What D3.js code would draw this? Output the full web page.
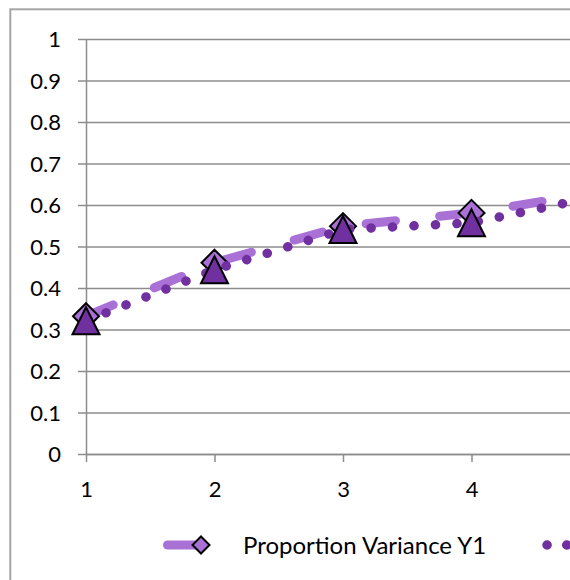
<!DOCTYPE html>
<html>
<head>
<meta charset="utf-8">
<script src="https://cdn.jsdelivr.net/npm/d3@7"></script>
<style>
  body { margin: 0; background: #fff; }
  svg { display: block; font-family: Lato, "Open Sans", sans-serif; }
</style>
</head>
<body>
<div id="chart"></div>
<script>
// values
const xValues = [1, 2, 3, 4, 5]
const varianceY1 = [0.332, 0.461, 0.549, 0.581, 0.631]
const varianceY2 = [0.321, 0.444, 0.541, 0.557, 0.622]
const yTicks = [0, 0.1, 0.2, 0.3, 0.4, 0.5, 0.6, 0.7, 0.8, 0.9, 1]
const xTicks = [1, 2, 3, 4]
const seriesNames = ["Proportion Variance Y1"]

const width = 570
const height = 580
const plot = { left: 86, top: 39, bottom: 454, right: 86 + 128.5 * 5 }

const gridColor = "#8c8c8c"
const lightPurple = "#a970d6"
const darkPurple = "#7030a0"

const svg = d3.select("#chart").append("svg")
    .attr("width", width)
    .attr("height", height)

const xScale = d3.scaleLinear()
    .domain([1, 6])
    .range([plot.left, plot.right])

const yScale = d3.scaleLinear()
    .domain([0, 1])
    .range([plot.bottom, plot.top])

// chart border (cropped on the right and bottom)
svg.append("rect")
    .attr("x", 10.3).attr("y", 9.3)
    .attr("width", 800).attr("height", 800)
    .attr("fill", "none")
    .attr("stroke", "#a6a6a6")
    .attr("stroke-width", 2)

// horizontal gridlines
svg.append("g")
    .attr("transform", "translate(" + plot.left + ",0)")
    .call(d3.axisRight(yScale).tickValues(yTicks).tickSize(plot.right - plot.left).tickFormat(""))
    .call(g => g.select(".domain").remove())
    .call(g => g.selectAll("line").attr("stroke", gridColor).attr("stroke-width", 1.5))

// y axis
svg.append("g")
    .attr("transform", "translate(" + plot.left + ",0)")
    .call(d3.axisLeft(yScale).tickValues(yTicks).tickSize(8).tickSizeOuter(0).tickPadding(17)
        .tickFormat(d => String(+d.toFixed(1))))
    .call(g => g.select(".domain").attr("stroke", gridColor).attr("stroke-width", 1.5))
    .call(g => g.selectAll("line").attr("stroke", gridColor).attr("stroke-width", 1.5))
    .call(g => g.selectAll("text")
        .attr("font-size", 22).attr("fill", "#000")
        .attr("font-family", "Lato, 'Open Sans', sans-serif")
        .attr("dy", "0.36em"))

// x axis
svg.append("g")
    .attr("transform", "translate(0," + plot.bottom + ")")
    .call(d3.axisBottom(xScale).tickValues(xTicks).tickSize(8).tickSizeOuter(0)
        .tickFormat(d3.format("d")))
    .call(g => g.select(".domain").attr("stroke", gridColor).attr("stroke-width", 1.5))
    .call(g => g.selectAll("line").attr("stroke", gridColor).attr("stroke-width", 1.5))
    .call(g => g.selectAll("text")
        .attr("font-size", 22).attr("fill", "#000")
        .attr("font-family", "Lato, 'Open Sans', sans-serif")
        .attr("y", 35).attr("dy", "0.36em"))

const diamond = r => "M0," + (-r) + "L" + r + ",0L0," + r + "L" + (-r) + ",0Z"
const triangle = r => "M0," + (-r) + "L" + r + "," + r + "L" + (-r) + "," + r + "Z"

const line = d3.line()
    .x(d => xScale(d[0]))
    .y(d => yScale(d[1]))

const pts1 = xValues.map((x, i) => [x, varianceY1[i]])
const pts2 = xValues.map((x, i) => [x, varianceY2[i]])

// series 1: long dash line + diamonds
svg.append("path")
    .datum(pts1)
    .attr("d", line)
    .attr("fill", "none")
    .attr("stroke", lightPurple)
    .attr("stroke-width", 9)
    .attr("stroke-linecap", "round")
    .attr("stroke-dasharray", "29.5,44.5")

svg.append("g").selectAll("path")
    .data(pts1)
    .join("path")
    .attr("transform", d => "translate(" + xScale(d[0]) + "," + yScale(d[1]) + ")")
    .attr("d", diamond(13))
    .attr("fill", lightPurple)
    .attr("stroke", "#000")
    .attr("stroke-width", 2)

// series 2: round dot line + triangles
svg.append("path")
    .datum(pts2)
    .attr("d", line)
    .attr("fill", "none")
    .attr("stroke", darkPurple)
    .attr("stroke-width", 9.5)
    .attr("stroke-linecap", "round")
    .attr("stroke-dasharray", "0.1,21.4")

svg.append("g").selectAll("path")
    .data(pts2)
    .join("path")
    .attr("transform", d => "translate(" + xScale(d[0]) + "," + yScale(d[1]) + ")")
    .attr("d", triangle(13.5))
    .attr("fill", darkPurple)
    .attr("stroke", "#000")
    .attr("stroke-width", 2)

// legend (second entry runs off the right edge)
const legend = svg.append("g").attr("transform", "translate(0,545)")

legend.append("line")
    .attr("x1", 167.5).attr("x2", 234.5)
    .attr("stroke", lightPurple)
    .attr("stroke-width", 9)
    .attr("stroke-linecap", "round")
    .attr("stroke-dasharray", "29.5,44.5")
legend.append("path")
    .attr("transform", "translate(201,0)")
    .attr("d", diamond(8.5))
    .attr("fill", lightPurple)
    .attr("stroke", "#000")
    .attr("stroke-width", 2)
legend.append("text")
    .attr("x", 243)
    .attr("y", 0)
    .attr("dy", "0.36em")
    .attr("font-size", 24)
    .text(seriesNames[0])

legend.append("line")
    .attr("x1", 547).attr("x2", 614)
    .attr("stroke", darkPurple)
    .attr("stroke-width", 9.5)
    .attr("stroke-linecap", "round")
    .attr("stroke-dasharray", "0.1,19.6")
</script>
</body>
</html>
